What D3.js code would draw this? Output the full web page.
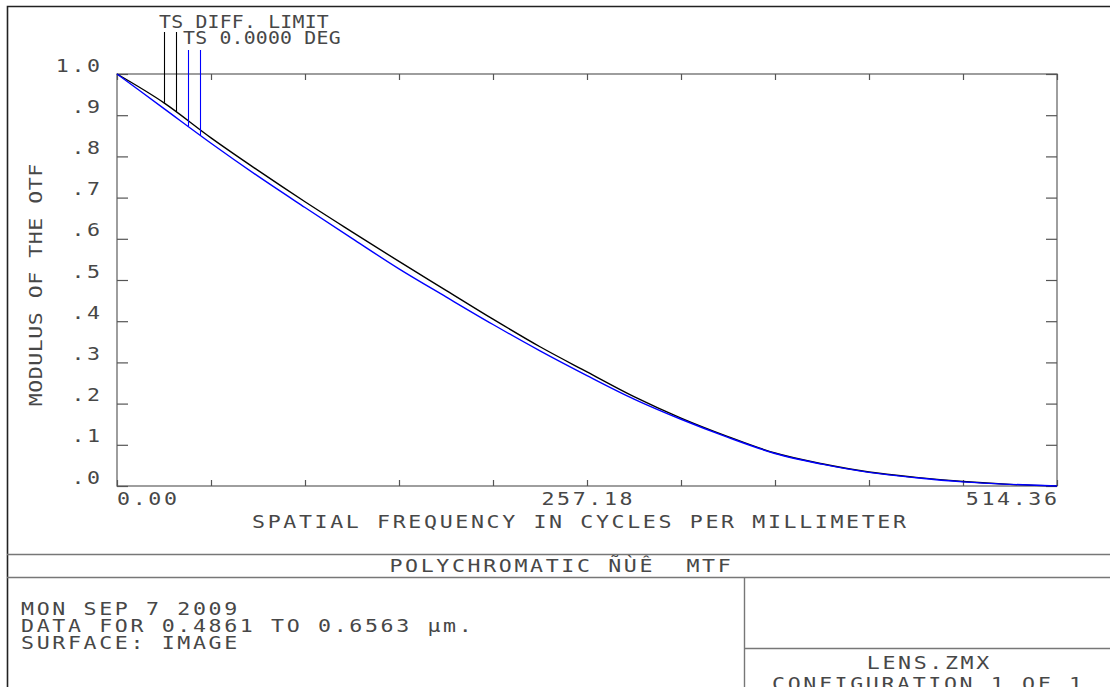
<!DOCTYPE html>
<html>
<head>
<meta charset="utf-8">
<script src="https://cdn.jsdelivr.net/npm/d3@7"></script>
<style>
	body { margin: 0; background: #fff; }
	svg { display: block; }
	text { font-family: "DejaVu Sans Mono", monospace; font-size: 18px; fill: #474747; white-space: pre; }
</style>
</head>
<body>
<svg id="chart"></svg>
<script>
// spatial frequency (cycles/mm) and MTF
const freq = [0, 25.72, 51.44, 77.15, 102.87, 128.59, 154.31, 180.03, 205.74, 231.46, 257.18,
	282.9, 308.62, 334.33, 360.05, 385.77, 411.49, 437.21, 462.92, 488.64, 514.36];
const diffLimit = [1.0, 0.930, 0.845, 0.766, 0.690, 0.617, 0.545, 0.475, 0.405, 0.338, 0.277,
	0.217, 0.165, 0.120, 0.080, 0.054, 0.034, 0.021, 0.011, 0.004, 0.0];
const field0 = [1.0, 0.916, 0.832, 0.752, 0.676, 0.601, 0.527, 0.459, 0.392, 0.328, 0.268,
	0.211, 0.162, 0.118, 0.079, 0.053, 0.033, 0.020, 0.010, 0.004, 0.0];

const yTicks = [0, 0.1, 0.2, 0.3, 0.4, 0.5, 0.6, 0.7, 0.8, 0.9, 1.0];
const yTickLabels = ['.0', '.1', '.2', '.3', '.4', '.5', '.6', '.7', '.8', '.9', '1.0'];
const xTicks = [0, 51.436, 102.872, 154.308, 205.744, 257.18, 308.616, 360.052, 411.488, 462.924, 514.36];
const xTickLabels = ['0.00', '257.18', '514.36'];

const legendLines = ['TS DIFF. LIMIT', 'TS 0.0000 DEG'];
const infoLines = ['MON SEP 7 2009', 'DATA FOR 0.4861 TO 0.6563 \u00b5m.', 'SURFACE: IMAGE'];

// dimension stuff
const W = 1110;
const H = 687;
const plotLeft = 117;
const plotRight = 1057;
const plotTop = 74;
const plotBottom = 486;
const GLYPH = 10.84; // advance of the mono font at 18px
const SX = 1.2; // horizontal stretch to get the wide plotter letters
const ADV = 15.64; // character pitch in the reference

const svg = d3.select('#chart').attr('width', W).attr('height', H);

const scaleX = d3.scaleLinear().domain([0, 514.36]).range([plotLeft, plotRight]);
const scaleY = d3.scaleLinear().domain([0, 1]).range([plotBottom, plotTop]);

// stretched mono text with a fixed pitch; anchor ignores the trailing spacing
function label(parent, str, x, y, { anchor = 'start', sx = SX, adv = ADV, rotate = 0 } = {}) {
	const ls = adv / sx - GLYPH;
	const shift = anchor === 'end' ? ls : anchor === 'middle' ? ls / 2 : 0;
	return parent.append('text')
		.attr('transform', `translate(${x},${y})${rotate ? ` rotate(${rotate})` : ''} scale(${sx},1)`)
		.attr('x', shift)
		.attr('text-anchor', anchor)
		.style('letter-spacing', ls + 'px')
		.text(str);
}

// page frame and info boxes
const frame = svg.append('g').attr('fill', 'none');
frame.append('path').attr('d', `M7.5,${H} V6.5 H${W}`).attr('stroke', '#222').attr('stroke-width', 1.6);
frame.append('path')
	.attr('d', `M7,554.5 H${W} M7,577.5 H${W} M744.5,577 V${H} M744,648.5 H${W}`)
	.attr('stroke', '#777').attr('stroke-width', 1.4);

// plot box
svg.append('rect')
	.attr('x', plotLeft).attr('y', plotTop)
	.attr('width', plotRight - plotLeft).attr('height', plotBottom - plotTop)
	.attr('fill', 'none').attr('stroke', '#6a6a6a').attr('stroke-width', 1.3);

// axes (ticks point inward on all four sides)
function styleAxis(g) {
	g.select('.domain').remove();
	g.attr('font-family', null).attr('font-size', null);
	g.selectAll('.tick line').attr('stroke', '#555').attr('stroke-width', 1.2);
}

const lsTick = ADV / SX - GLYPH;
svg.append('g')
	.attr('transform', `translate(${plotLeft},0)`)
	.call(d3.axisLeft(scaleY).tickValues(yTicks).tickSize(-11)
		.tickFormat((d, i) => yTickLabels[i]))
	.call(styleAxis)
	.call(g => g.selectAll('.tick text')
		.attr('fill', null)
		.attr('dy', null)
		.attr('x', lsTick)
		.attr('transform', `translate(-17,-3) scale(${SX},1)`)
		.style('letter-spacing', lsTick + 'px'));

svg.append('g')
	.attr('transform', `translate(${plotRight},0)`)
	.call(d3.axisRight(scaleY).tickValues(yTicks).tickSize(-11).tickFormat(''))
	.call(styleAxis);

svg.append('g')
	.attr('transform', `translate(0,${plotBottom})`)
	.call(d3.axisBottom(scaleX).tickValues(xTicks).tickSize(-6).tickFormat(''))
	.call(styleAxis);

svg.append('g')
	.attr('transform', `translate(0,${plotTop})`)
	.call(d3.axisTop(scaleX).tickValues(xTicks).tickSize(-6).tickFormat(''))
	.call(styleAxis);

// x tick labels: first left aligned, middle centred, last right aligned
const xLab = svg.append('g');
label(xLab, xTickLabels[0], scaleX(0), 505);
label(xLab, xTickLabels[1], scaleX(257.18), 505, { anchor: 'middle' });
label(xLab, xTickLabels[2], scaleX(514.36), 505, { anchor: 'end' });

// axis titles
label(svg, 'SPATIAL FREQUENCY IN CYCLES PER MILLIMETER', 579, 528, { anchor: 'middle' });
label(svg, 'MODULUS OF THE OTF', 42, 285, { anchor: 'middle', rotate: -90, adv: 13.5 });

// curves
const line = d3.line()
	.x((d, i) => scaleX(freq[i]))
	.y(d => scaleY(d))
	.curve(d3.curveMonotoneX);

const series = [
	{ values: diffLimit, color: '#000' },
	{ values: field0, color: '#0000ff' }
];

svg.append('g').attr('fill', 'none')
	.selectAll('path')
	.data(series)
	.join('path')
	.attr('d', d => line(d.values))
	.attr('stroke', d => d.color)
	.attr('stroke-width', 1.4);

// legend with leader lines dropping onto the curves (T and S for each series)
function valueAt(values, f) {
	const i = Math.max(1, d3.bisectLeft(freq, f));
	const t = (f - freq[i - 1]) / (freq[i] - freq[i - 1]);
	return values[i - 1] + t * (values[i] - values[i - 1]);
}

const legend = svg.append('g');
label(legend, legendLines[0], 159, 28, { sx: 1.1, adv: 12.15 });
label(legend, legendLines[1], 183, 44, { sx: 1.1, adv: 12.15 });

const leaders = [
	{ x: 164, y0: 32, s: series[0] },
	{ x: 176, y0: 32, s: series[0] },
	{ x: 188, y0: 50, s: series[1] },
	{ x: 200, y0: 50, s: series[1] }
];

legend.selectAll('line')
	.data(leaders)
	.join('line')
	.attr('x1', d => d.x + 0.5).attr('x2', d => d.x + 0.5)
	.attr('y1', d => d.y0)
	.attr('y2', d => scaleY(valueAt(d.s.values, scaleX.invert(d.x))))
	.attr('stroke', d => d.s.color)
	.attr('stroke-width', 1.1);

// title and info blocks
label(svg, 'POLYCHROMATIC \u00d1\u00d9\u00ca  MTF', 560, 572, { anchor: 'middle' });

const info = svg.append('g');
infoLines.forEach((d, i) => label(info, d, 21, 615 + i * 17));

const cfg = svg.append('g');
label(cfg, 'LENS.ZMX', 928, 669, { anchor: 'middle' });
label(cfg, 'CONFIGURATION 1 OF 1', 927, 690, { anchor: 'middle' });
</script>
</body>
</html>
